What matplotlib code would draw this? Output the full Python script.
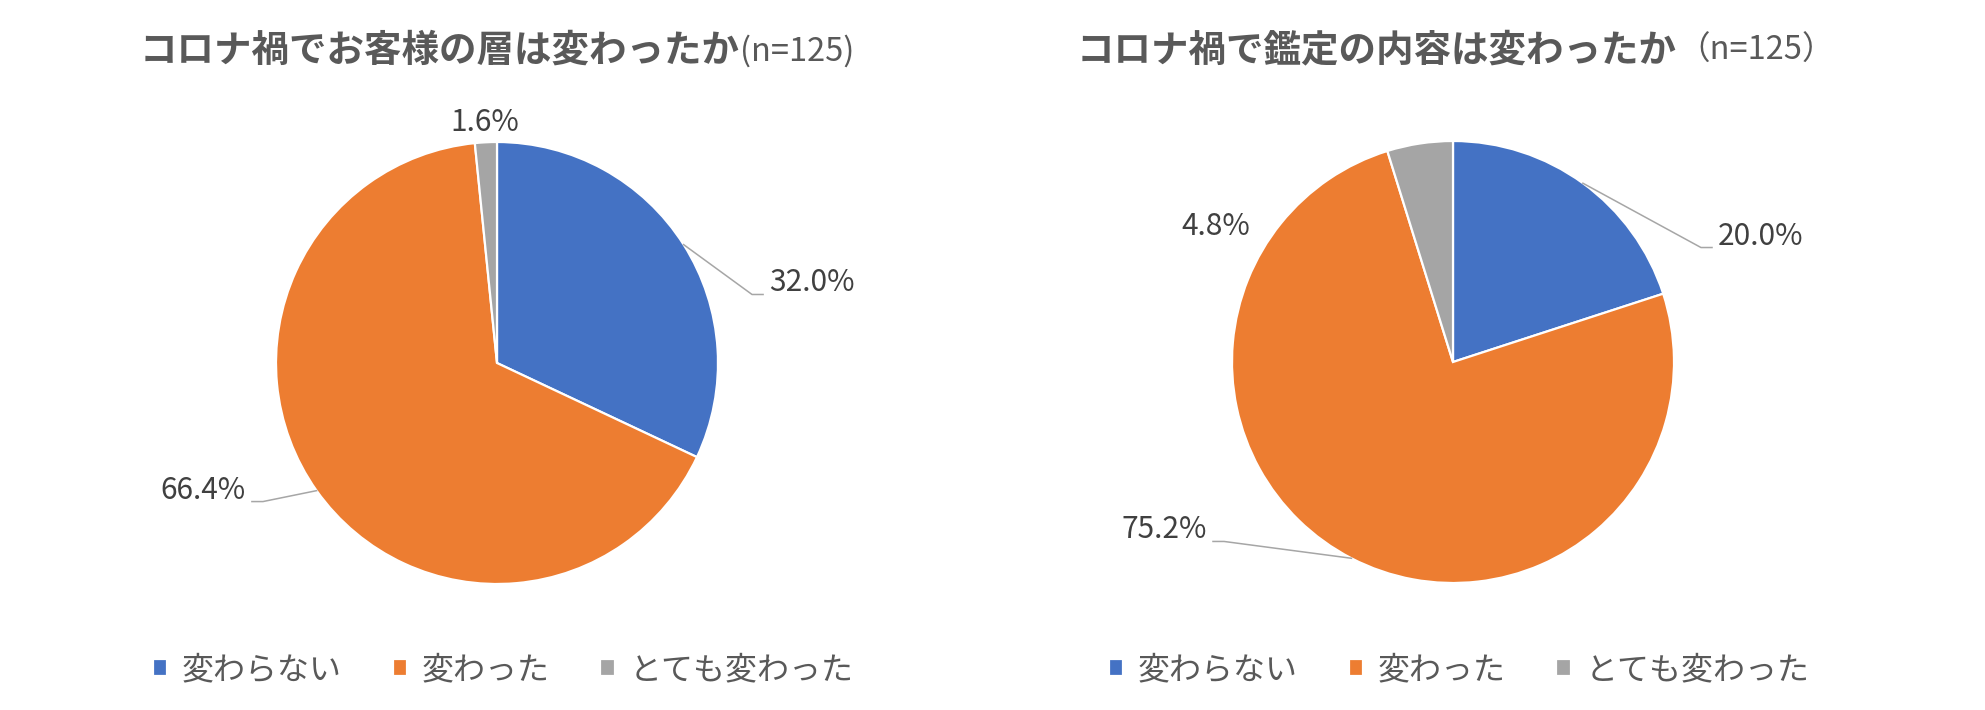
import matplotlib
matplotlib.use("Agg")
import matplotlib.pyplot as plt
import numpy as np

plt.rcParams['font.family'] = ['Noto Sans CJK JP', 'DejaVu Sans']

# データ
categories = ['変わらない', '変わった', 'とても変わった']
colors = ['#4472C4', '#ED7D31', '#A5A5A5']

title_left = 'コロナ禍でお客様の層は変わったか'
sub_left = '(n=125)'
values_left = [32.0, 66.4, 1.6]

title_right = 'コロナ禍で鑑定の内容は変わったか'
sub_right = '（n=125）'
values_right = [20.0, 75.2, 4.8]

W, H = 1985, 710
fig = plt.figure(figsize=(W / 100, H / 100), dpi=100)

# ラベル位置（半径単位, 中心基準）: (x, y, ha, 引き出し線あり)
layout_left = [(1.231, 0.362, 'left', True),
               (-1.136, -0.575, 'right', True),
               (-0.054, 1.090, 'center', False)]
layout_right = [(1.199, 0.570, 'left', True),
                (-1.113, -0.760, 'right', True),
                (-1.072, 0.611, 'center', False)]


def draw_pie(cx, cy, r, values, layout, title, sub, title_x):
    ax = fig.add_axes([(cx - r) / W, (H - cy - r) / H, 2 * r / W, 2 * r / H])
    wedges, _ = ax.pie(values, colors=colors, startangle=90, counterclock=False,
                       radius=1, wedgeprops=dict(edgecolor='white', linewidth=1.6))
    ax.set_xlim(-1, 1)
    ax.set_ylim(-1, 1)
    ax.set_aspect('equal')
    ax.axis('off')

    for w, v, (lx, ly, ha, lead) in zip(wedges, values, layout):
        ax.text(lx, ly, f'{v:.1f}%', ha=ha, va='center', fontsize=21.5, color='#404040')
        if lead:
            ang = np.deg2rad((w.theta1 + w.theta2) / 2)
            px, py = np.cos(ang), np.sin(ang)
            # 引き出し線: 弧の中点 -> 折れ点 -> ラベル横
            sgn = 1 if ha == 'left' else -1
            ey = ly - 0.052
            ex_end = lx - sgn * 0.027
            ex_elbow = ex_end - sgn * 0.05
            ax.plot([px, ex_elbow, ex_end], [py, ey, ey], color='#A6A6A6',
                    lw=1.1, clip_on=False)

    # タイトル
    t = fig.text(title_x / W, 1 - 50 / H, title, ha='left', va='center',
                 fontsize=27, fontweight='bold', color='#595959')
    fig.canvas.draw()
    bb = t.get_window_extent()
    fig.text(bb.x1 / W, 1 - 51 / H, sub, ha='left', va='center',
             fontsize=23.5, color='#595959')

    # 凡例
    fig.legend(wedges, categories, loc='center', ncol=3,
               bbox_to_anchor=((cx + 6) / W, 1 - 670 / H), frameon=False,
               fontsize=23, labelcolor='#595959', handlelength=0.45,
               handleheight=0.45, handletextpad=0.45, columnspacing=1.6)


draw_pie(497, 363, 221, values_left, layout_left, title_left, sub_left, 140)
draw_pie(1453, 362, 221, values_right, layout_right, title_right, sub_right, 1077)

fig.savefig('out.png', dpi=100, facecolor='white')
